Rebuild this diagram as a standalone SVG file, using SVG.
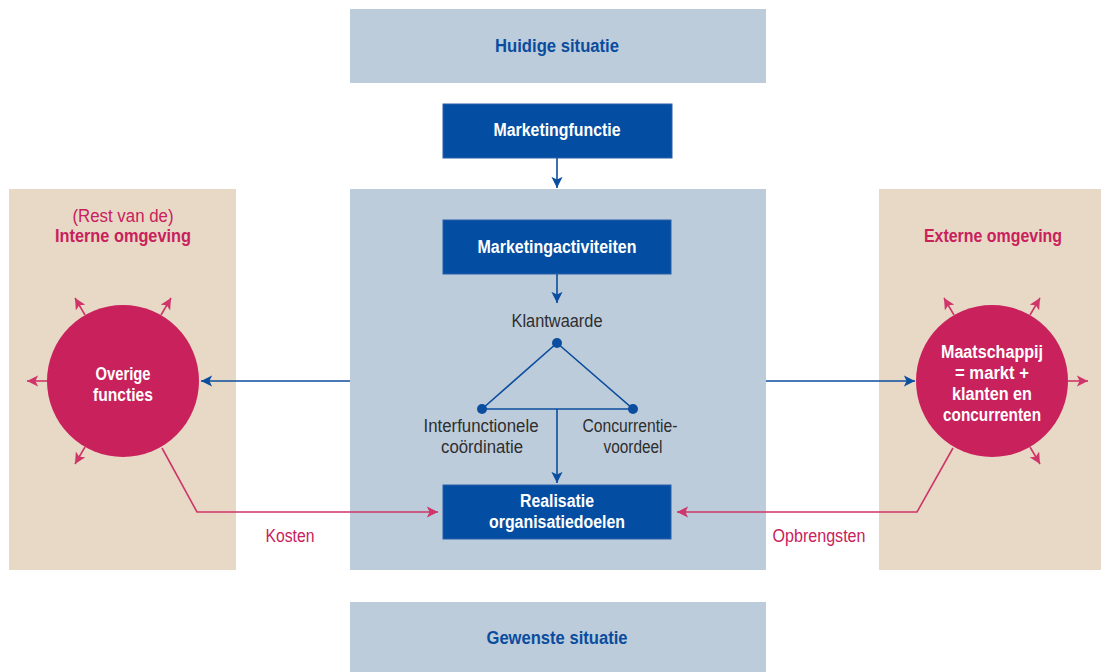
<svg xmlns="http://www.w3.org/2000/svg" width="1101" height="672" viewBox="0 0 1101 672">
  <style>
    .panel-blue { fill: #bdccdb; }
    .panel-beige { fill: #e8d9c7; }
    .box { fill: #034ea2; stroke: #2a5fa8; stroke-width: 1; }
    .circle { fill: #c8215c; }
    .t { font-family: "Liberation Sans", Arial, sans-serif; }
    .bold { font-weight: bold; font-size: 18px; }
    .reg { font-size: 17.5px; }
    .white { fill: #ffffff; }
    .navy { fill: #0a4c9e; }
    .dark { fill: #2e2e2e; }
    .pink { fill: #c8215c; }
    .blue-line { stroke: #0b4d9e; stroke-width: 1.6; fill: none; }
    .pink-line { stroke: #cf3569; stroke-width: 1.6; fill: none; }
  </style>
  <defs>
    <marker id="arrow-blue" viewBox="0 0 10 10" refX="10" refY="5" markerWidth="7" markerHeight="7" markerUnits="strokeWidth" orient="auto">
      <path d="M0,0 L10,5 L0,10 L2.5,5 z" fill="#0b4d9e"/>
    </marker>
    <marker id="arrow-pink" viewBox="0 0 10 10" refX="10" refY="5" markerWidth="7" markerHeight="7" markerUnits="strokeWidth" orient="auto">
      <path d="M0,0 L10,5 L0,10 L2.5,5 z" fill="#cf3569"/>
    </marker>
  </defs>

  <!-- background panels -->
  <g id="panel-intern">
    <rect class="panel-beige" x="9" y="189" width="227" height="381"/>
    <text class="t reg pink" x="123" y="222" text-anchor="middle" textLength="101" lengthAdjust="spacingAndGlyphs">(Rest van de)</text>
    <text class="t bold pink" x="123" y="242" text-anchor="middle" textLength="136" lengthAdjust="spacingAndGlyphs">Interne omgeving</text>
  </g>
  <g id="panel-extern">
    <rect class="panel-beige" x="879" y="189" width="222" height="381"/>
    <text class="t bold pink" x="993" y="242" text-anchor="middle" textLength="138" lengthAdjust="spacingAndGlyphs">Externe omgeving</text>
  </g>
  <g id="panel-organisatie">
    <rect class="panel-blue" x="350" y="189" width="416" height="381"/>
  </g>

  <g id="huidige-situatie">
    <rect class="panel-blue" x="350" y="9" width="416" height="74"/>
    <text class="t bold navy" x="557" y="52" text-anchor="middle" textLength="124" lengthAdjust="spacingAndGlyphs">Huidige situatie</text>
  </g>
  <g id="gewenste-situatie">
    <rect class="panel-blue" x="350" y="602" width="416" height="70"/>
    <text class="t bold navy" x="557" y="644" text-anchor="middle" textLength="141" lengthAdjust="spacingAndGlyphs">Gewenste situatie</text>
  </g>

  <!-- connectors -->
  <g id="connectors">
    <line class="blue-line" x1="557" y1="158" x2="557" y2="188" marker-end="url(#arrow-blue)"/>
    <line class="blue-line" x1="557" y1="274" x2="557" y2="303" marker-end="url(#arrow-blue)"/>
    <polyline class="blue-line" points="482,409 557,343 633,409 482,409"/>
    <line class="blue-line" x1="557" y1="409" x2="557" y2="483" marker-end="url(#arrow-blue)"/>
    <line class="blue-line" x1="350" y1="381" x2="201" y2="381" marker-end="url(#arrow-blue)"/>
    <line class="blue-line" x1="766" y1="381" x2="915" y2="381" marker-end="url(#arrow-blue)"/>
    <polyline class="pink-line" points="162,448 197,512 438,512" marker-end="url(#arrow-pink)"/>
    <polyline class="pink-line" points="953,448 917,512 677,512" marker-end="url(#arrow-pink)"/>
    <!-- outward arrows around Overige functies -->
    <line class="pink-line" x1="85" y1="315" x2="75" y2="298" marker-end="url(#arrow-pink)"/>
    <line class="pink-line" x1="161" y1="315" x2="171" y2="298" marker-end="url(#arrow-pink)"/>
    <line class="pink-line" x1="47" y1="381" x2="27" y2="381" marker-end="url(#arrow-pink)"/>
    <line class="pink-line" x1="85" y1="447" x2="75" y2="464" marker-end="url(#arrow-pink)"/>
    <!-- outward arrows around Maatschappij -->
    <line class="pink-line" x1="954" y1="315" x2="944" y2="298" marker-end="url(#arrow-pink)"/>
    <line class="pink-line" x1="1030" y1="315" x2="1040" y2="298" marker-end="url(#arrow-pink)"/>
    <line class="pink-line" x1="1068" y1="381" x2="1088" y2="381" marker-end="url(#arrow-pink)"/>
    <line class="pink-line" x1="1030" y1="447" x2="1040" y2="464" marker-end="url(#arrow-pink)"/>
    <circle cx="557" cy="343" r="5" fill="#0b4d9e"/>
    <circle cx="482" cy="409" r="5" fill="#0b4d9e"/>
    <circle cx="633" cy="409" r="5" fill="#0b4d9e"/>
  </g>

  <g id="marketingfunctie">
    <rect class="box" x="443" y="104" width="229" height="54"/>
    <text class="t bold white" x="557" y="136" text-anchor="middle" textLength="127" lengthAdjust="spacingAndGlyphs">Marketingfunctie</text>
  </g>
  <g id="marketingactiviteiten">
    <rect class="box" x="443" y="220" width="228" height="54"/>
    <text class="t bold white" x="557" y="253" text-anchor="middle" textLength="159" lengthAdjust="spacingAndGlyphs">Marketingactiviteiten</text>
  </g>
  <g id="klantwaarde">
    <text class="t reg dark" x="557" y="327" text-anchor="middle" textLength="91" lengthAdjust="spacingAndGlyphs">Klantwaarde</text>
  </g>
  <g id="interfunctionele-coordinatie">
    <text class="t reg dark" x="481" y="432" text-anchor="middle" textLength="115" lengthAdjust="spacingAndGlyphs">Interfunctionele</text>
    <text class="t reg dark" x="482" y="453" text-anchor="middle" textLength="82" lengthAdjust="spacingAndGlyphs">coördinatie</text>
  </g>
  <g id="concurrentievoordeel">
    <text class="t reg dark" x="630" y="432" text-anchor="middle" textLength="95" lengthAdjust="spacingAndGlyphs">Concurrentie-</text>
    <text class="t reg dark" x="633" y="453" text-anchor="middle" textLength="59" lengthAdjust="spacingAndGlyphs">voordeel</text>
  </g>
  <g id="realisatie">
    <rect class="box" x="443" y="485" width="228" height="54"/>
    <text class="t bold white" x="557" y="507" text-anchor="middle" textLength="74" lengthAdjust="spacingAndGlyphs">Realisatie</text>
    <text class="t bold white" x="557" y="528" text-anchor="middle" textLength="136" lengthAdjust="spacingAndGlyphs">organisatiedoelen</text>
  </g>

  <g id="overige-functies">
    <circle class="circle" cx="123" cy="381" r="76"/>
    <text class="t bold white" x="123" y="380" text-anchor="middle" textLength="55" lengthAdjust="spacingAndGlyphs">Overige</text>
    <text class="t bold white" x="123" y="401" text-anchor="middle" textLength="60" lengthAdjust="spacingAndGlyphs">functies</text>
  </g>
  <g id="maatschappij">
    <circle class="circle" cx="992" cy="381" r="76"/>
    <text class="t bold white" x="992" y="358" text-anchor="middle" textLength="102" lengthAdjust="spacingAndGlyphs">Maatschappij</text>
    <text class="t bold white" x="992" y="379" text-anchor="middle" textLength="74" lengthAdjust="spacingAndGlyphs">= markt +</text>
    <text class="t bold white" x="992" y="400" text-anchor="middle" textLength="80" lengthAdjust="spacingAndGlyphs">klanten en</text>
    <text class="t bold white" x="992" y="421" text-anchor="middle" textLength="98" lengthAdjust="spacingAndGlyphs">concurrenten</text>
  </g>

  <g id="labels">
    <text class="t reg pink" x="290" y="542" text-anchor="middle" textLength="49" lengthAdjust="spacingAndGlyphs">Kosten</text>
    <text class="t reg pink" x="819" y="542" text-anchor="middle" textLength="93" lengthAdjust="spacingAndGlyphs">Opbrengsten</text>
  </g>
</svg>
